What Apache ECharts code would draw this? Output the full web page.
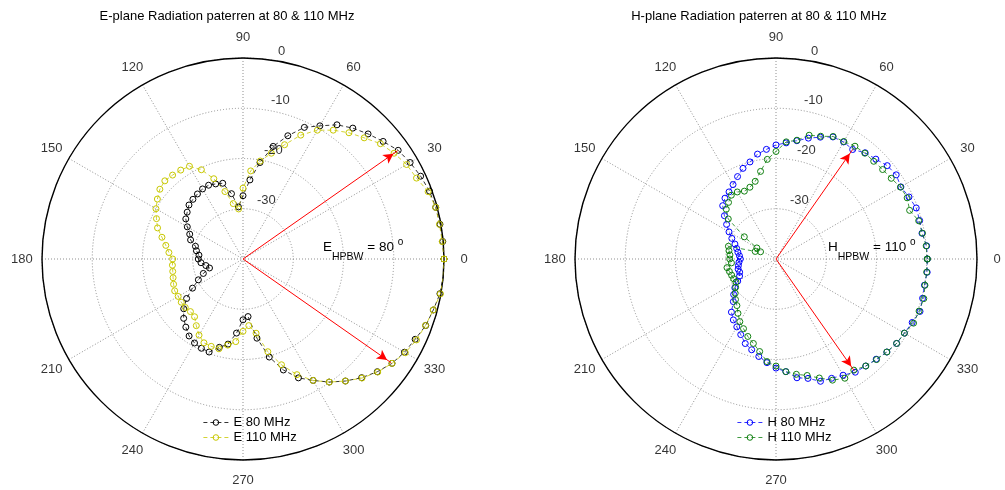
<!DOCTYPE html>
<html>
<head>
<meta charset="utf-8">
<script src="https://cdn.jsdelivr.net/npm/echarts@6/dist/echarts.min.js"></script>
<style>
  html, body { margin: 0; padding: 0; background: #ffffff; }
  #chart { width: 1005px; height: 490px; }
</style>
</head>
<body>
<div id="chart"></div>
<script>
// Measurement angles (degrees) and received levels (dB)
const angles = [
  0, 5, 10, 15, 20, 25, 30, 35, 40, 45, 50, 55,
  60, 65, 70, 75, 80, 85, 90, 95, 100, 105, 110, 115,
  120, 125, 130, 135, 140, 145, 150, 155, 160, 165, 170, 175,
  180, 185, 190, 195, 200, 205, 210, 215, 220, 225, 230, 235,
  240, 245, 250, 255, 260, 265, 270, 275, 280, 285, 290, 295,
  300, 305, 310, 315, 320, 325, 330, 335, 340, 345, 350, 355,
  360
];

const e80 = [
  0, -0.1, -0.2, -0.3, -0.5, -1.0, -1.6, -2.3, -3.6, -4.8, -6.0, -7.4,
  -9.4, -11.1, -13.9, -16.8, -20.5, -24.2, -27.4, -29.6, -26.8, -24.4, -24.1, -23.8,
  -23.9, -24.2, -24.5, -24.8, -25.5, -26.1, -27.2, -28.3, -28.9, -30.2, -30.6, -31.2,
  -31.1, -31.6, -32.5, -33.1, -31.6, -30.2, -28.4, -26.3, -24.6, -23.3, -22.3, -21.3,
  -20.7, -20.4, -20.3, -21.8, -22.8, -25.2, -27.9, -28.5, -24.0, -19.8, -16.5, -13.9,
  -12.1, -10.1, -8.3, -6.6, -5.1, -3.8, -2.9, -2.2, -1.3, -0.8, -0.2, 0,
  0
];

const e110 = [
  0, -0.2, -0.3, -0.3, -0.8, -1.9, -2.4, -3.3, -4.3, -5.9, -7.2, -8.7,
  -10.4, -12.8, -15.8, -18.2, -20.2, -22.4, -25.9, -30.0, -28.8, -26.1, -23.0, -20.4,
  -18.7, -18.4, -18.2, -18.0, -18.4, -19.2, -20.0, -21.0, -21.9, -23.3, -24.4, -25.2,
  -26.0, -25.9, -25.8, -25.6, -25.3, -25.0, -25.1, -25.0, -25.0, -25.2, -25.0, -23.8,
  -22.5, -21.6, -21.5, -21.5, -22.6, -23.5, -25.6, -26.7, -25.0, -20.9, -17.6, -14.6,
  -12.1, -10.1, -8.3, -6.5, -5.0, -3.8, -2.7, -1.9, -1.35, -0.8, -0.1, 0,
  0
];

const h80 = [
  -9.9, -9.9, -10.5, -10.4, -10.3, -10.8, -11.3, -10.8, -11.1, -11.9, -12.4, -13.4,
  -13.1, -13.2, -14.2, -15.1, -16.1, -16.8, -17.3, -18.1, -18.8, -20.0, -20.8, -21.9,
  -22.9, -23.7, -24.2, -25.0, -26.6, -28.0, -29.2, -30.3, -31.3, -31.9, -32.3, -32.7,
  -32.9, -32.6, -32.4, -32.2, -32.3, -32.0, -31.2, -30.0, -29.0, -28.0, -26.2, -25.2,
  -24.4, -23.4, -22.1, -21.3, -20.3, -19.3, -18.3, -17.5, -16.0, -15.4, -14.1, -13.8,
  -13.3, -12.5, -12.2, -11.8, -11.2, -10.7, -10.5, -10.1, -9.5, -9.8, -10.0, -9.8,
  -9.9
];

const h110 = [
  -9.9, -10.0, -10.4, -10.6, -11.7, -11.2, -11.4, -12.0, -12.3, -12.5, -12.5, -12.6,
  -13.0, -13.1, -14.0, -14.5, -16.0, -16.6, -18.6, -20.1, -22.3, -24.0, -24.8, -25.1,
  -24.6, -24.5, -25.3, -26.0, -27.6, -32.3, -35.6, -36.6, -35.6, -30.2, -30.5, -30.8,
  -30.8, -31.1, -30.1, -30.4, -30.6, -30.7, -30.8, -30.2, -29.4, -28.6, -27.9, -26.8,
  -25.6, -24.7, -23.6, -22.6, -21.3, -19.5, -18.7, -17.5, -16.7, -16.0, -14.8, -13.4,
  -12.6, -13.0, -12.2, -11.7, -11.2, -10.7, -10.5, -9.8, -9.7, -9.55, -9.9, -9.9,
  -9.9
];

// Half-power beamwidth markers: [angle, dB]
const eArrows = [[35, -2.45], [325, -4.0]];
const hArrows = [[55, -13.4], [305, -12.9]];
const eHpbw = 80;
const hHpbw = 110;

// Axis ticks
const angleTicks = [0, 30, 60, 90, 120, 150, 180, 210, 240, 270, 300, 330];
const radiusTicks = [-30, -20, -10, 0];
const radiusMin = -40;
const radiusMax = 0;

const FONT = '"Liberation Sans", Arial, Helvetica, sans-serif';
const TEXT = '#000000';
const GRID = '#8f8f8f';

const chart = echarts.init(document.getElementById('chart'), null, { renderer: 'canvas' });

function polarAxes(idx) {
  return {
    angle: {
      polarIndex: idx, type: 'value', min: 0, max: 360, interval: 30,
      startAngle: 0, clockwise: false,
      axisLine: { show: true, lineStyle: { color: '#000000', width: 1.4 } },
      axisTick: { show: false },
      axisLabel: { show: false },
      splitLine: { show: true, lineStyle: { color: GRID, width: 1, type: [1, 2] } },
      splitArea: { show: false }
    },
    radius: {
      polarIndex: idx, type: 'value', min: radiusMin, max: radiusMax, interval: 10,
      axisLine: { show: false },
      axisTick: { show: false },
      axisLabel: { show: false },
      splitLine: { show: true, lineStyle: { color: GRID, width: 1, type: [1, 2] } },
      splitArea: { show: false }
    }
  };
}

function pattern(name, vals, color, idx) {
  return {
    type: 'line', name, coordinateSystem: 'polar', polarIndex: idx,
    data: angles.map((a, i) => [vals[i], a]),
    symbol: 'circle', symbolSize: 6, showSymbol: true,
    lineStyle: { color, width: 0.8, type: [4, 3] },
    itemStyle: { color: 'rgba(255,255,255,0)', borderColor: color, borderWidth: 1 },
    emphasis: { disabled: true },
    z: 3
  };
}

function arrows(list, idx) {
  return list.map(([ang, db]) => {
    const t = ang * Math.PI / 180;
    return {
      type: 'line', coordinateSystem: 'polar', polarIndex: idx, silent: true,
      data: [
        { value: [radiusMin, ang], symbol: 'none' },
        {
          value: [db, ang], symbol: 'arrow', symbolSize: [8, 10],
          symbolRotate: ang - 90,
          symbolOffset: [-5 * Math.cos(t), 5 * Math.sin(t)]
        }
      ],
      showSymbol: true,
      lineStyle: { color: '#ff0000', width: 1 },
      itemStyle: { color: '#ff0000' },
      emphasis: { disabled: true },
      z: 5
    };
  });
}

function tickLabels(idx) {
  const outer = radiusMax + 0.1 * (radiusMax - radiusMin);
  return [
    {
      type: 'scatter', coordinateSystem: 'polar', polarIndex: idx, silent: true, clip: false,
      data: angleTicks.map(a => [outer, a]),
      symbolSize: 0,
      label: {
        show: true, position: 'inside', formatter: p => String(p.value[1]),
        color: TEXT, fontSize: 13, fontFamily: FONT
      },
      z: 4
    },
    {
      type: 'scatter', coordinateSystem: 'polar', polarIndex: idx, silent: true, clip: false,
      data: radiusTicks.map(r => [r, 82]),
      symbolSize: 0,
      label: {
        show: true, position: 'inside', align: 'left', verticalAlign: 'bottom',
        offset: [7, -2.5], formatter: p => String(p.value[0]),
        color: TEXT, fontSize: 13, fontFamily: FONT
      },
      z: 4
    }
  ];
}

function hpbwText(letter, value, x) {
  return {
    type: 'text', x: x, y: 247, silent: true,
    style: {
      text: '{b|' + letter + '}{s|HPBW}{b| = ' + value + ' }{o|o}',
      align: 'left', verticalAlign: 'middle',
      fontFamily: FONT,
      rich: {
        b: { fontSize: 13.5, lineHeight: 32, verticalAlign: 'middle', fill: TEXT, fontFamily: FONT },
        s: { fontSize: 10.5, lineHeight: 12, verticalAlign: 'bottom', fill: TEXT, fontFamily: FONT },
        o: { fontSize: 10, verticalAlign: 'top', padding: [6, 0, 0, 0], fill: TEXT, fontFamily: FONT }
      }
    }
  };
}

const axL = polarAxes(0), axR = polarAxes(1);

const legendBase = {
  orient: 'vertical', padding: 0, itemGap: 0, itemWidth: 25, itemHeight: 7,
  textStyle: { fontSize: 13, fontFamily: FONT, color: TEXT, lineHeight: 15 },
  lineStyle: { width: 0.8 },
  itemStyle: { borderWidth: 1 },
  selectedMode: false, backgroundColor: 'transparent'
};

chart.setOption({
  animation: false,
  backgroundColor: '#ffffff',
  textStyle: { fontFamily: FONT },
  polar: [
    { center: [243, 259], radius: 201 },
    { center: [776, 259], radius: 201 }
  ],
  angleAxis: [axL.angle, axR.angle],
  radiusAxis: [axL.radius, axR.radius],
  legend: [
    Object.assign({}, legendBase, { left: 203, top: 415, data: ['E 80 MHz', 'E 110 MHz'] }),
    Object.assign({}, legendBase, { left: 737, top: 415, data: ['H 80 MHz', 'H 110 MHz'] })
  ],
  graphic: [
    {
      type: 'text', x: 227, y: 16, silent: true,
      style: { text: 'E-plane Radiation paterren at 80 & 110 MHz', align: 'center', verticalAlign: 'middle',
               fontSize: 13, fontFamily: FONT, fill: TEXT }
    },
    {
      type: 'text', x: 759, y: 16, silent: true,
      style: { text: 'H-plane Radiation paterren at 80 & 110 MHz', align: 'center', verticalAlign: 'middle',
               fontSize: 13, fontFamily: FONT, fill: TEXT }
    },
    hpbwText('E', eHpbw, 323),
    hpbwText('H', hHpbw, 828)
  ],
  series: [
    pattern('E 80 MHz', e80, '#000000', 0),
    pattern('E 110 MHz', e110, '#c8c800', 0),
    pattern('H 80 MHz', h80, '#0000ff', 1),
    pattern('H 110 MHz', h110, '#108010', 1),
    ...arrows(eArrows, 0),
    ...arrows(hArrows, 1),
    ...tickLabels(0),
    ...tickLabels(1)
  ]
});
</script>
</body>
</html>
